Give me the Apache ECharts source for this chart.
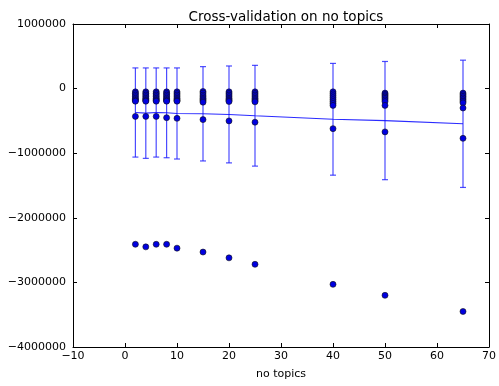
<!DOCTYPE html>
<html>
<head>
<meta charset="utf-8">
<script src="https://cdn.jsdelivr.net/npm/echarts@6/dist/echarts.min.js"></script>
<style>
  html, body { margin: 0; padding: 0; background: #fff; }
  #chart { width: 499px; height: 386px; }
</style>
</head>
<body>
<div id="chart"></div>
<script>
// number of topics tried
var nTopics = [2, 4, 6, 8, 10, 15, 20, 25, 40, 50, 65];

// score of every fold (10 folds) for each number of topics
var foldScores = [
  [-50000, -75000, -100000, -125000, -150000, -170000, -185000, -195000, -430000, -2410000],
  [-50000, -75000, -100000, -125000, -150000, -170000, -185000, -195000, -430000, -2450000],
  [-50000, -75000, -100000, -125000, -150000, -170000, -185000, -195000, -430000, -2410000],
  [-50000, -75000, -100000, -125000, -150000, -170000, -185000, -195000, -450000, -2410000],
  [-50000, -75000, -100000, -125000, -150000, -170000, -185000, -195000, -460000, -2470000],
  [-45000, -70000, -100000, -125000, -150000, -170000, -190000, -210000, -480000, -2530000],
  [-50000, -75000, -100000, -125000, -150000, -170000, -185000, -200000, -500000, -2620000],
  [-50000, -75000, -100000, -125000, -150000, -170000, -190000, -205000, -520000, -2720000],
  [-50000, -80000, -110000, -140000, -170000, -200000, -230000, -260000, -620000, -3030000],
  [-70000, -90000, -110000, -130000, -150000, -175000, -200000, -260000, -670000, -3200000],
  [-70000, -95000, -120000, -145000, -170000, -195000, -220000, -300000, -770000, -3450000]
];

// mean score and its standard deviation (error bars)
var meanScore = [-370000, -380000, -370000, -375000, -385000, -390000, -400000, -420000, -475000, -495000, -545000];
var stdScore = [690000, 700000, 690000, 695000, 705000, 730000, 750000, 780000, 865000, 915000, 985000];

var xTicks = { min: -10, max: 70, interval: 10 };
var yTicks = { min: -4000000, max: 1000000, interval: 1000000 };

var myChart = echarts.init(document.getElementById('chart'));

var points = [];
nTopics.forEach(function (n, i) {
  foldScores[i].forEach(function (v) { points.push([n, v]); });
});
var meanLine = nTopics.map(function (n, i) { return [n, meanScore[i]]; });
var errData = nTopics.map(function (n, i) {
  return [n, meanScore[i] - stdScore[i], meanScore[i] + stdScore[i]];
});

function minus(v) {
  return String(v).replace('-', '\u2212');
}

var font = 'DejaVu Sans';
var tickStyle = { inside: true, length: 4, lineStyle: { color: '#000' } };
var lineStyle = { color: '#000', width: 1 };

option = {
  animation: false,
  backgroundColor: '#fff',
  title: {
    text: 'Cross-validation on no topics',
    left: 281, top: 5,
    textAlign: 'center',
    textStyle: { fontFamily: font, fontSize: 13.5, fontWeight: 'normal', color: '#000' }
  },
  grid: { left: 73, right: 9, top: 24, bottom: 39, containLabel: false },
  xAxis: [{
    type: 'value',
    min: xTicks.min, max: xTicks.max, interval: xTicks.interval,
    name: 'no topics', nameLocation: 'middle', nameGap: 22,
    nameTextStyle: { fontFamily: font, fontSize: 11, color: '#000' },
    axisLine: { onZero: false, lineStyle: lineStyle },
    axisTick: tickStyle,
    axisLabel: { fontFamily: font, fontSize: 11, color: '#000', margin: 4, formatter: minus },
    splitLine: { show: false }
  }, {
    type: 'value', position: 'top',
    min: xTicks.min, max: xTicks.max, interval: xTicks.interval,
    axisLine: { onZero: false, lineStyle: lineStyle },
    axisTick: tickStyle,
    axisLabel: { show: false },
    splitLine: { show: false }
  }],
  yAxis: [{
    type: 'value',
    min: yTicks.min, max: yTicks.max, interval: yTicks.interval,
    axisLine: { onZero: false, lineStyle: lineStyle },
    axisTick: tickStyle,
    axisLabel: { fontFamily: font, fontSize: 11, color: '#000', margin: 7, formatter: minus },
    splitLine: { show: false }
  }, {
    type: 'value', position: 'right',
    min: yTicks.min, max: yTicks.max, interval: yTicks.interval,
    axisLine: { onZero: false, lineStyle: lineStyle },
    axisTick: tickStyle,
    axisLabel: { show: false },
    splitLine: { show: false }
  }],
  series: [{
    type: 'custom',
    name: 'std',
    data: errData,
    z: 2,
    renderItem: function (params, api) {
      var x = api.value(0);
      var lo = api.coord([x, api.value(1)]);
      var hi = api.coord([x, api.value(2)]);
      var w = 3;
      var style = { stroke: 'rgba(30,30,255,0.8)', lineWidth: 1.2 };
      return {
        type: 'group',
        children: [
          { type: 'line', shape: { x1: lo[0], y1: lo[1], x2: hi[0], y2: hi[1] }, style: style },
          { type: 'line', shape: { x1: lo[0] - w, y1: lo[1], x2: lo[0] + w, y2: lo[1] }, style: style },
          { type: 'line', shape: { x1: hi[0] - w, y1: hi[1], x2: hi[0] + w, y2: hi[1] }, style: style }
        ]
      };
    }
  }, {
    type: 'line',
    name: 'mean',
    data: meanLine,
    symbol: 'none',
    z: 3,
    lineStyle: { color: 'rgba(20,20,255,0.9)', width: 1.1 }
  }, {
    type: 'scatter',
    name: 'folds',
    data: points,
    symbolSize: 6,
    z: 4,
    itemStyle: { color: '#0000e0', borderColor: '#111', borderWidth: 0.6, opacity: 1 }
  }]
};

myChart.setOption(option);
</script>
</body>
</html>
